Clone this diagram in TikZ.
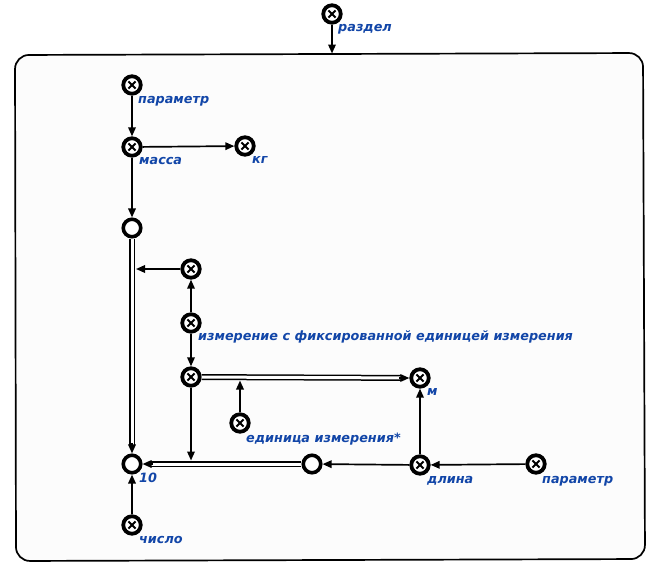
\documentclass[tikz,border=0pt]{standalone}
\usepackage{fontspec}
\setmainfont{DejaVu Sans}
\usetikzlibrary{arrows.meta,calc}
\definecolor{lblblue}{HTML}{1246A8}
\definecolor{framefill}{HTML}{FCFCFC}
\tikzset{
  xnode/.style={circle,draw=black,line width=3.8pt,fill=white,minimum size=17.5pt,inner sep=0pt,
    path picture={\draw[line width=2pt] ($(path picture bounding box.center)+(-3.6pt,-3.6pt)$) -- ++(7.2pt,7.2pt);
                  \draw[line width=2pt] ($(path picture bounding box.center)+(-3.6pt,3.6pt)$) -- ++(7.2pt,-7.2pt);}},
  onode/.style={circle,draw=black,line width=3.6pt,fill=white,minimum size=17.5pt,inner sep=0pt},
  lbl/.style={anchor=base west,text=lblblue,font=\bfseries\itshape\fontsize{12.8}{14}\selectfont,inner sep=0pt},
  arr/.style={line width=1.7pt,-{Triangle[length=9pt,width=7.5pt]}},
  dbl/.style={draw=black,line width=1.5pt,double=white,double distance=3pt},
}
\begin{document}
\begin{tikzpicture}[x=1pt,y=-1pt]
\useasboundingbox (0,0) rectangle (661,576);
\fill[white] (0,0) rectangle (661,576);
% frame
\draw[line width=1.7pt,fill=framefill,rounded corners=14pt] (15,55) -- (643,53) -- (645,559) -- (16,561) -- cycle;
\coordinate (ftop) at (332,53.5);

% nodes
\node[xnode] (razdel) at (332,14) {};
\node[xnode] (param1) at (132,85) {};
\node[xnode] (massa) at (132,147) {};
\node[xnode] (kg) at (245,146) {};
\node[onode] (A) at (132,228) {};
\node[xnode] (X1) at (191,269) {};
\node[xnode] (izm) at (191,323) {};
\node[xnode] (X2) at (191,377) {};
\node[xnode] (m) at (420,378) {};
\node[xnode] (ed) at (240,423) {};
\node[onode] (B) at (132,464) {};
\node[onode] (C) at (312,464) {};
\node[xnode] (dlina) at (420,465) {};
\node[xnode] (param2) at (536,464) {};
\node[xnode] (chislo) at (132,525) {};

% labels
\node[lbl] (lrazdel) at (338,31) {раздел};
\node[lbl] (lparam1) at (138,103) {параметр};
\node[lbl] (lmassa) at (139,164) {масса};
\node[lbl] (lkg) at (252,163) {кг};
\node[lbl] (lizm) at (198,340) {измерение с фиксированной единицей измерения};
\node[lbl] (lm) at (427,395) {м};
\node[lbl] (led) at (246,442) {единица измерения*};
\node[lbl] (l10) at (139,482) {10};
\node[lbl] (ldlina) at (427,483) {длина};
\node[lbl] (lparam2) at (542,483) {параметр};
\node[lbl] (lchislo) at (139,543) {число};

% junction coordinates (explicit pt offsets are in page orientation: +y is up)
\coordinate (j1) at ($(A|-X1)+(4pt,0)$);
\coordinate (j2) at ($(X2|-B)+(0,3.5pt)$);
\coordinate (j3) at ($(ed|-X2)+(0,-3.5pt)$);

% connectors
\draw[arr] (razdel) -- (ftop);
\draw[arr] (param1) -- (massa);
\draw[arr] (massa) -- (kg);
\draw[arr] (massa) -- (A);
\draw[dbl,shorten >=8pt] (A) -- (B);
\draw[arr] ($(B.north)+(0,10pt)$) -- (B.north);
\draw[arr] (X1) -- (j1);
\draw[arr] (izm) -- (X1);
\draw[arr] (izm) -- (X2);
\draw[dbl,shorten >=8pt] (X2) -- (m);
\draw[arr] ($(m.west)+(-10pt,0)$) -- (m.west);
\draw[arr] (ed) -- (j3);
\draw[arr] (X2) -- (j2);
\draw[dbl,shorten >=8pt] (C) -- (B);
\draw[arr] ($(B.east)+(10pt,0)$) -- (B.east);
\draw[arr] (dlina) -- (C);
\draw[arr] (dlina) -- (m);
\draw[arr] (param2) -- (dlina);
\draw[arr] (chislo) -- (B);
\end{tikzpicture}
\end{document}
